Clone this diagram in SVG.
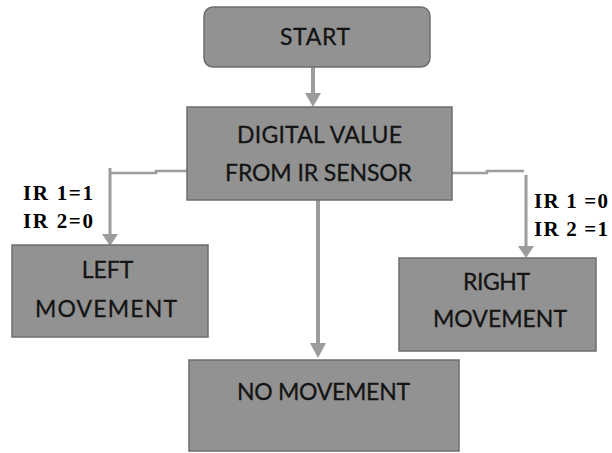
<svg xmlns="http://www.w3.org/2000/svg" width="612" height="453" viewBox="0 0 612 453">
<style>
.box{fill:#929292;stroke:#6e6e6e;stroke-width:1.5}
.t{font-family:Lato,"Liberation Sans",Arial,sans-serif;font-size:23px;fill:#141414;stroke:#141414;stroke-width:0.3;text-anchor:middle}
.lbl{font-family:"Liberation Serif","Times New Roman",serif;font-size:21px;font-weight:bold;fill:#000}
.c{stroke:#9c9c9c;fill:none}
.ah{fill:#9c9c9c}
</style>
<rect width="612" height="453" fill="#fff"/>
<g id="connectors">
<line class="c" x1="313" y1="67" x2="313" y2="95" stroke-width="4"/>
<polygon class="ah" points="305,93 321,93 313,107"/>
<polyline class="c" points="187,171 156,171 156,173 110,173" stroke-width="2.5"/>
<line class="c" x1="110" y1="168" x2="110" y2="236" stroke-width="3"/>
<polygon class="ah" points="102,234 118,234 110,246"/>
<polyline class="c" points="452,173 487,173 487,171 524,171" stroke-width="2.5"/>
<line class="c" x1="526" y1="175" x2="526" y2="248" stroke-width="3"/>
<polygon class="ah" points="518,246 534,246 526,258"/>
<line class="c" x1="318" y1="200" x2="318" y2="345" stroke-width="4"/>
<polygon class="ah" points="310,343 326,343 318,358"/>
</g>
<g id="start">
<rect class="box" x="204" y="7" width="226" height="60" rx="9"/>
<text class="t" x="315" y="45" textLength="70" lengthAdjust="spacing">START</text>
</g>
<g id="digital">
<rect class="box" x="187" y="107" width="265" height="93"/>
<text class="t" x="319.5" y="143" textLength="165" lengthAdjust="spacing">DIGITAL VALUE</text>
<text class="t" x="318.5" y="181" textLength="187" lengthAdjust="spacing">FROM IR SENSOR</text>
</g>
<g id="left">
<rect class="box" x="12" y="245" width="196" height="92"/>
<text class="t" x="107.5" y="278">LEFT</text>
<text class="t" x="106" y="317" textLength="142" lengthAdjust="spacing">MOVEMENT</text>
</g>
<g id="right">
<rect class="box" x="399" y="258" width="197" height="93"/>
<text class="t" x="496.5" y="290" textLength="67" lengthAdjust="spacing">RIGHT</text>
<text class="t" x="500" y="327" textLength="134" lengthAdjust="spacing">MOVEMENT</text>
</g>
<g id="none">
<rect class="box" x="189" y="360" width="270" height="91"/>
<text class="t" x="323.5" y="400" textLength="173" lengthAdjust="spacing">NO MOVEMENT</text>
</g>
<g id="labels">
<text class="lbl" x="23" y="200" textLength="70" lengthAdjust="spacing">IR 1=1</text>
<text class="lbl" x="23" y="228" textLength="70" lengthAdjust="spacing">IR 2=0</text>
<text class="lbl" x="534" y="208" textLength="74" lengthAdjust="spacing">IR 1 =0</text>
<text class="lbl" x="534" y="236" textLength="74" lengthAdjust="spacing">IR 2 =1</text>
</g>
</svg>
